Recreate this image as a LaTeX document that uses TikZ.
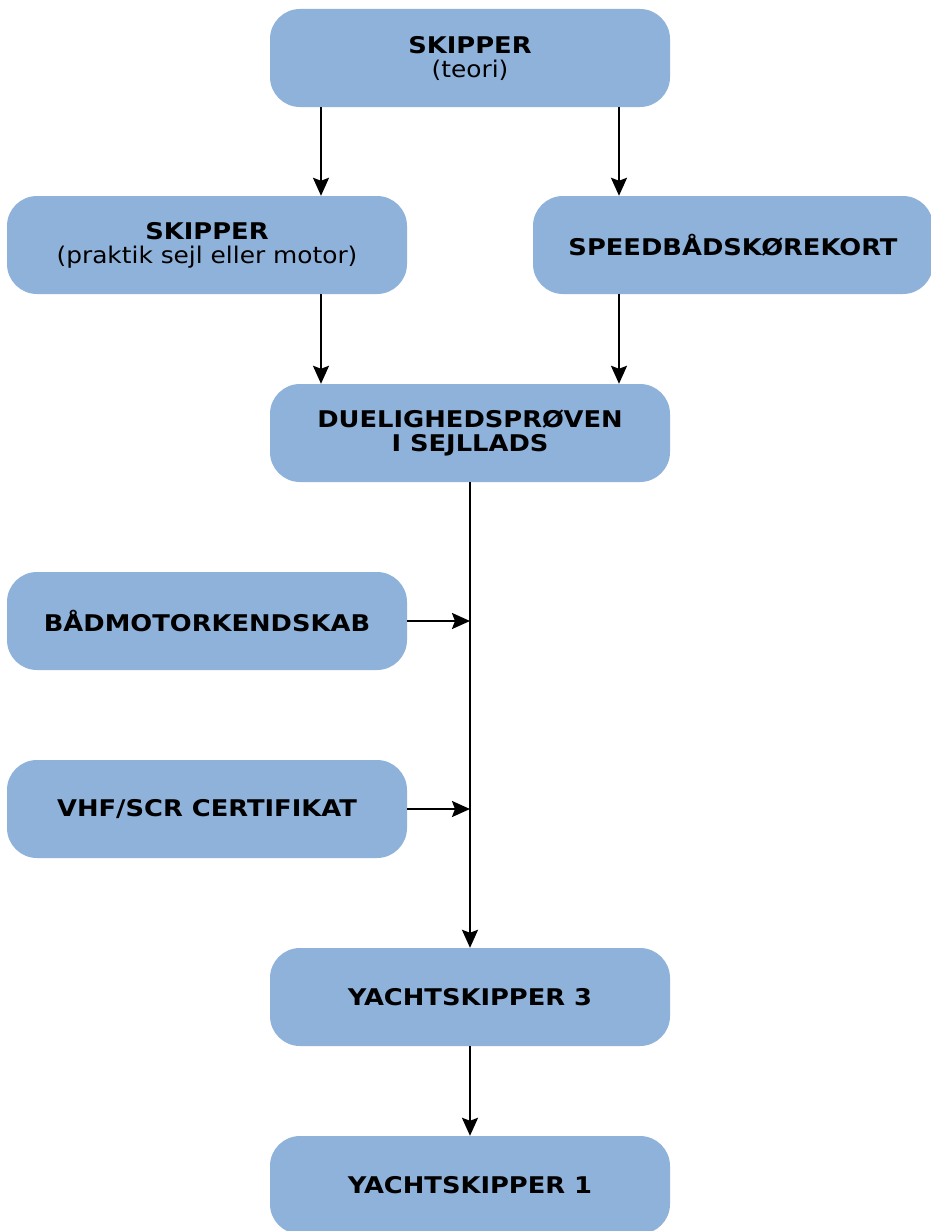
\documentclass[tikz,border=0pt]{standalone}
\usepackage{fontspec}
\setmainfont{DejaVu Sans}[FakeStretch=1.08,BoldFeatures={FakeStretch=1.12}]
\usetikzlibrary{arrows.meta}
\definecolor{boxblue}{RGB}{143,178,219}
\begin{document}
\begin{tikzpicture}[x=1pt,y=-1pt]
        \tikzset{course/.style={fill=boxblue,rounded corners=30pt,minimum width=400pt,minimum height=98pt,align=center,inner sep=0pt,font=\fontsize{23}{24}\selectfont},
                 arr/.style={line width=2.2pt,-{Stealth[length=18pt,width=16pt,inset=3pt]}}};
        \useasboundingbox (0,0) rectangle (930,1231);
        \node[course] (skteori) at (470,58) {\textbf{SKIPPER}\\(teori)};
        \node[course] (skprak) at (207,245) {\textbf{SKIPPER}\\(praktik sejl eller motor)};
        \node[course] (speed) at (733,245) {\textbf{SPEEDBÅDSKØREKORT}};
        \node[course] (duelig) at (470,433) {\textbf{DUELIGHEDSPRØVEN}\\\textbf{I SEJLLADS}};
        \node[course] (motor) at (207,621) {\textbf{BÅDMOTORKENDSKAB}};
        \node[course] (vhf) at (207,809) {\textbf{VHF/SCR CERTIFIKAT}};
        \node[course] (ys3) at (470,997) {\textbf{YACHTSKIPPER 3}};
        \node[course] (ys1) at (470,1185) {\textbf{YACHTSKIPPER 1}};
        \coordinate (lft) at (321,0);
        \coordinate (rgt) at (619,0);
        \draw[arr] (skteori.south -| lft) -- (skprak.north -| lft);
        \draw[arr] (skteori.south -| rgt) -- (speed.north -| rgt);
        \draw[arr] (skprak.south -| lft) -- (duelig.north -| lft);
        \draw[arr] (speed.south -| rgt) -- (duelig.north -| rgt);
        \draw[arr] (duelig) -- (ys3);
        \draw[arr] (motor.east) -- (motor.east -| duelig.south);
        \draw[arr] (vhf.east) -- (vhf.east -| duelig.south);
        \draw[arr] (ys3) -- (ys1);
    \end{tikzpicture}
\end{document}
